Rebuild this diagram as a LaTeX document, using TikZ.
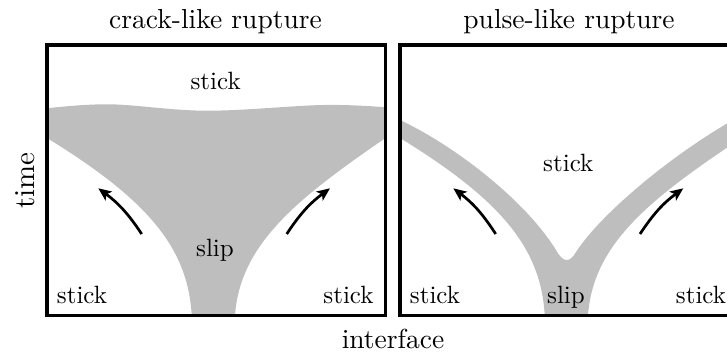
\documentclass[tikz,border=0pt]{standalone}
\usetikzlibrary{arrows.meta}
\definecolor{slipgray}{RGB}{190,190,190}
\tikzset{
  frame/.style={line width=3.8pt, draw=black},
  sliparea/.style={fill=slipgray},
  lbl/.style={inner sep=0pt, scale=2.5, anchor=base},
  outerlbl/.style={inner sep=0pt, scale=2.75},
  front/.style={line width=2.7pt, -{Stealth[length=13pt, width=11pt, inset=3pt]}}
}
\begin{document}
\begin{tikzpicture}[x=1pt, y=-1pt]
\useasboundingbox (0,0) rectangle (727,354);
\clip (0,0) rectangle (727,354);

% crack-like rupture: slip region
\fill[sliparea] (47,138)
  -- plot[smooth, tension=0.6] coordinates {(47,108.3) (110,104.3) (206.7,110.7) (323.3,105) (385.5,107.3)}
  -- (385.5,138)
  .. controls (295,200) and (240,245) .. (235,315.5)
  -- (191.7,315.5)
  .. controls (188,248) and (148,200) .. (47,138) -- cycle;

% pulse-like rupture: two slip pulses joined at the nucleation point
\fill[sliparea] (400,120)
  .. controls (455,146) and (525,200) .. (556,250)
  .. controls (563,263) and (570,263) .. (576,252)
  .. controls (600,215) and (670,155) .. (740,116)
  -- (740,139)
  .. controls (648,200) and (593,245) .. (588,315.5)
  -- (544.7,315.5)
  .. controls (541,248) and (501,200) .. (400,138) -- cycle;

% panels
\draw[frame] (47,45.3) rectangle (385.5,315.5);
\draw[frame] (400,45.3) rectangle (738.5,315.5);

% titles and axes
\node[outerlbl, anchor=base] (tcrack) at (215.5,28.5) {crack-like rupture};
\node[outerlbl, anchor=base] (tpulse) at (569,28.5) {pulse-like rupture};
\node[outerlbl, anchor=base] (xlab) at (393,348.5) {interface};
\node[outerlbl, scale=1.05, rotate=90] (ylab) at (25,180.4) {time};

% crack-like labels
\node[lbl] (cstick) at (215.7,89) {stick};
\node[lbl] (cslip) at (215,256) {slip};
\node[lbl] (cstickl) at (82,303.3) {stick};
\node[lbl] (csticky) at (348.5,303.3) {stick};

% pulse-like labels
\node[lbl] (pstick) at (568.3,171) {stick};
\node[lbl] (pslip) at (566,303.3) {slip};
\node[lbl] (pstickl) at (435,303.3) {stick};
\node[lbl] (psticky) at (701,303.3) {stick};

% rupture front directions
\coordinate (ca1) at (141.7,234);
\coordinate (ca2) at (98.3,188.3);
\coordinate (cb1) at (286.7,234);
\coordinate (cb2) at (330,188.3);
\coordinate (pa1) at (495.7,234);
\coordinate (pa2) at (453.3,188.3);
\coordinate (pb1) at (640,234);
\coordinate (pb2) at (683.3,188.3);
\draw[front] (ca1) to[bend right=10] (ca2);
\draw[front] (cb1) to[bend left=10] (cb2);
\draw[front] (pa1) to[bend right=10] (pa2);
\draw[front] (pb1) to[bend left=10] (pb2);
\end{tikzpicture}
\end{document}
